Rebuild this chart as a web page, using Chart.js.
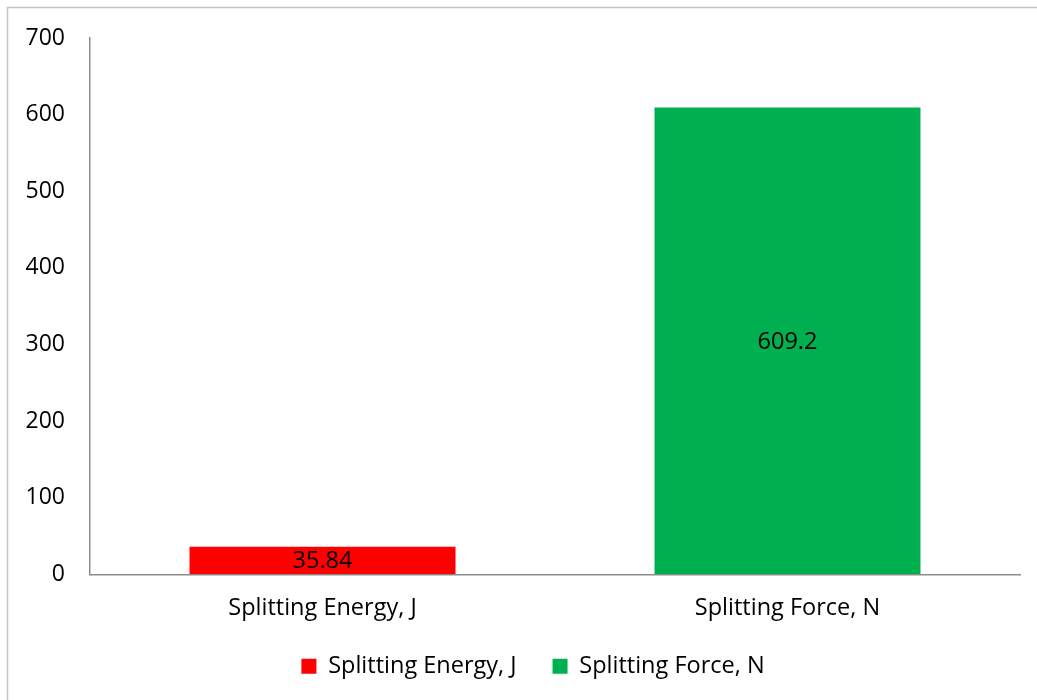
<!DOCTYPE html>
<html>
<head>
<meta charset="utf-8">
<script src="https://cdn.jsdelivr.net/npm/chart.js@4.4.1/dist/chart.umd.min.js"></script>
<style>
  html, body { margin: 0; padding: 0; background: #fff; }
  #wrap { position: relative; width: 1037px; height: 700px; }
  canvas { display: block; }
</style>
</head>
<body>
<div id="wrap"><canvas id="c" width="1037" height="700"></canvas></div>
<script>
// Categories and series values
const categories = ['Splitting Energy, J', 'Splitting Force, N'];
const seriesNames = ['Splitting Energy, J', 'Splitting Force, N'];
const energyValues = [35.84, null];
const forceValues = [null, 609.2];
const seriesColors = ['#FF0000', '#00B050'];
const yTicks = [0, 100, 200, 300, 400, 500, 600, 700];

const FONT = "'Open Sans', 'DejaVu Sans', sans-serif";

// Light frame along the left and top edge of the chart box
const framePlugin = {
  id: 'frame',
  beforeDraw(chart) {
    const ctx = chart.ctx;
    ctx.save();
    ctx.strokeStyle = '#c4c4c4';
    ctx.lineWidth = 1.5;
    ctx.beginPath();
    ctx.moveTo(7.5, chart.height);
    ctx.lineTo(7.5, 7.5);
    ctx.lineTo(chart.width, 7.5);
    ctx.stroke();
    ctx.restore();
  }
};

// Nudge the legend block so it sits centred under the plot, a bit higher
const legendNudge = {
  id: 'legendNudge',
  afterLayout(chart) {
    const l = chart.legend;
    if (!l) return;
    l.left += 23; l.right += 23;
    l.top -= 16; l.bottom -= 16;
  }
};

// Value labels centred inside each bar
const valueLabels = {
  id: 'valueLabels',
  afterDatasetsDraw(chart) {
    const ctx = chart.ctx;
    ctx.save();
    ctx.font = '23.5px ' + FONT;
    ctx.fillStyle = '#000';
    ctx.textAlign = 'center';
    ctx.textBaseline = 'middle';
    chart.data.datasets.forEach((ds, di) => {
      const meta = chart.getDatasetMeta(di);
      meta.data.forEach((bar, i) => {
        const v = ds.data[i];
        if (v === null || v === undefined) return;
        const props = bar.getProps(['x', 'y', 'base'], true);
        ctx.fillText(String(v), props.x, (props.y + props.base) / 2 + 1);
      });
    });
    ctx.restore();
  }
};

new Chart(document.getElementById('c'), {
  type: 'bar',
  data: {
    labels: categories,
    datasets: [
      { label: seriesNames[0], data: energyValues, backgroundColor: seriesColors[0] },
      { label: seriesNames[1], data: forceValues, backgroundColor: seriesColors[1] }
    ]
  },
  options: {
    responsive: false,
    animation: false,
    grouped: false,
    categoryPercentage: 1,
    barPercentage: 0.572,
    layout: { padding: { left: 0, right: 17, top: 38, bottom: -4 } },
    plugins: {
      tooltip: { enabled: false },
      legend: {
        position: 'bottom',
        labels: {
          boxWidth: 15,
          boxHeight: 15,
          padding: 36,
          color: '#000',
          font: { family: FONT, size: 23.5 }
        }
      }
    },
    scales: {
      x: {
        grid: { display: false },
        border: { display: true, color: '#8c8c8c', width: 1.5 },
        ticks: { color: '#000', padding: 12, font: { family: FONT, size: 23.5 } }
      },
      y: {
        min: 0,
        max: 700,
        afterFit(scale) { scale.width = 90; },
        afterBuildTicks(scale) { scale.ticks = yTicks.map(v => ({ value: v })); },
        grid: { display: false },
        border: { display: true, color: '#8c8c8c', width: 1.5 },
        ticks: { color: '#000', padding: 17, font: { family: FONT, size: 23 } }
      }
    }
  },
  plugins: [framePlugin, legendNudge, valueLabels]
});
</script>
</body>
</html>
